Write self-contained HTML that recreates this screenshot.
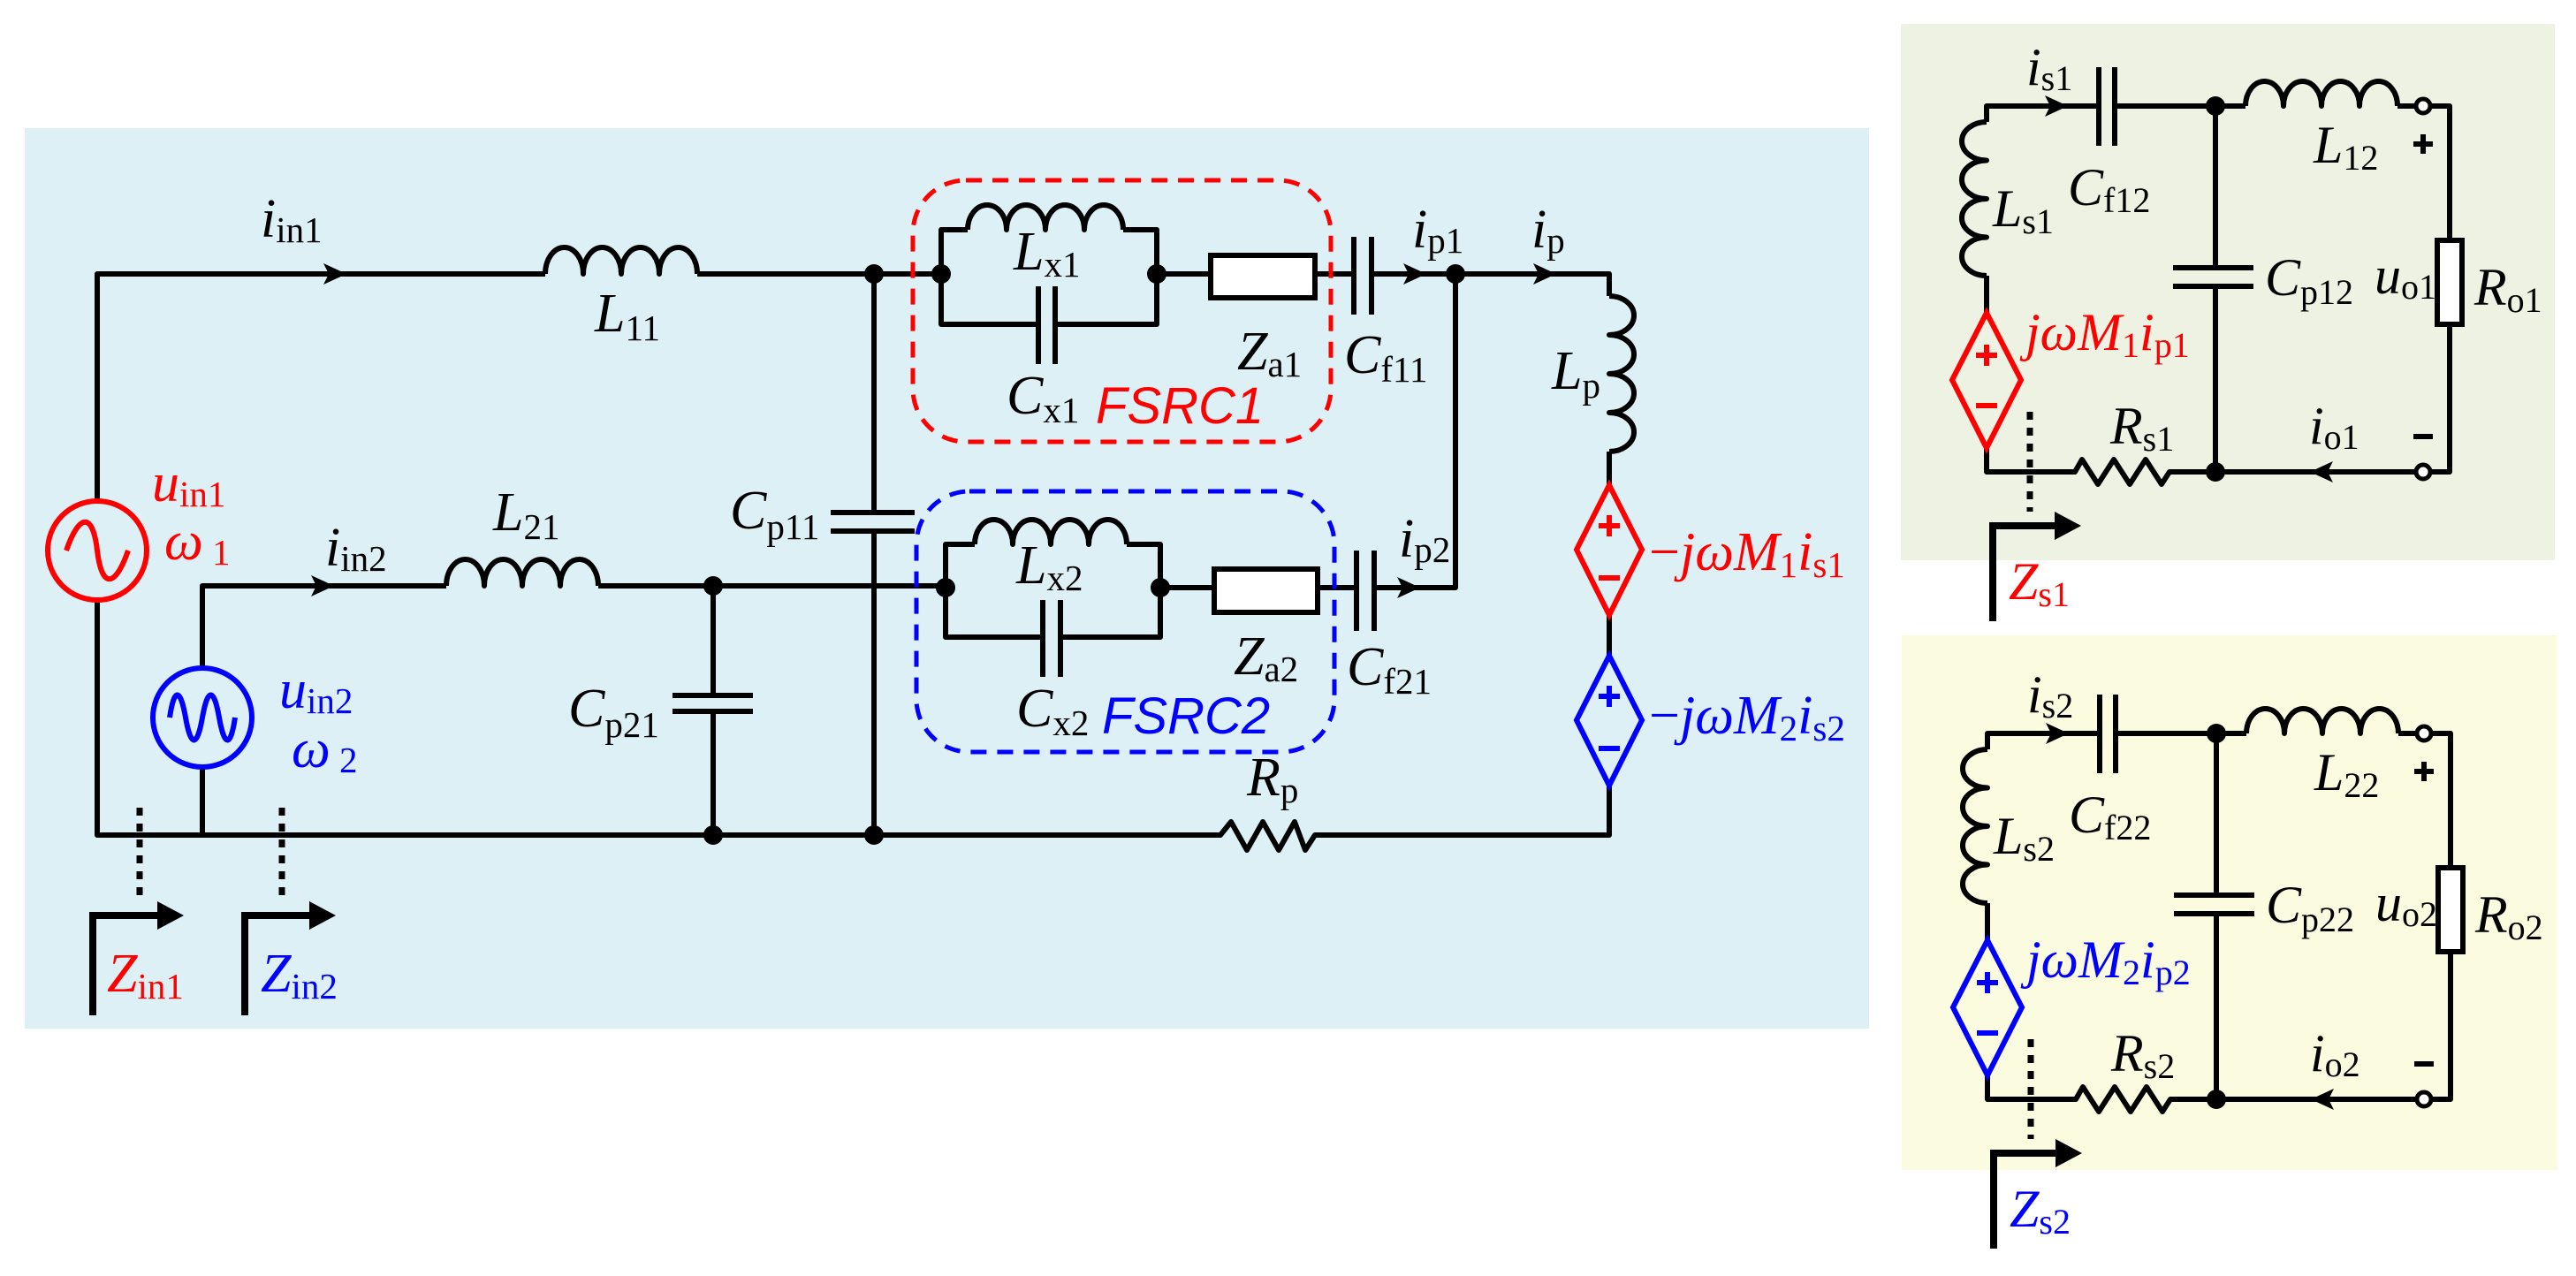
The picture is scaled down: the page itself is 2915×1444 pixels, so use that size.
<!DOCTYPE html>
<html><head><meta charset="utf-8"><style>
html,body{margin:0;padding:0;background:#fff}
svg{display:block}
.t{font-family:"Liberation Serif",serif;font-style:italic;font-size:62px}
.s{font-style:normal;font-size:41px}
.r{font-family:"Liberation Serif",serif;font-style:italic;font-size:60px}
.rs{font-style:normal;font-size:40px}
.f{font-family:"Liberation Sans",sans-serif;font-style:italic;font-size:58px}
</style></head><body>
<svg width="2915" height="1444" viewBox="0 0 2915 1444" xmlns="http://www.w3.org/2000/svg">
<rect x="28" y="145" width="2087" height="1019" fill="#ddf0f5"/>
<rect x="2151" y="27" width="740" height="607" fill="#edf2e3"/>
<rect x="2152" y="719" width="742" height="605" fill="#fbfbdf"/>

<g fill="none" stroke="#000" stroke-width="6" stroke-linejoin="round">
<path d="M110 565 V310 H617"/>
<path d="M617 310 a21.5 30 0 0 1 43 0 a21.5 30 0 0 1 43 0 a21.5 30 0 0 1 43 0 a21.5 30 0 0 1 43 0"/>
<path d="M789 310 H1065"/>
<path d="M110 681 V945 H1381 L1393 930 L1411 962 L1429 930 L1447 962 L1465 930 L1477 962 L1488 945 H1821 V889"/>
<path d="M229 945 V870"/>
<path d="M229 754 V663 H505"/>
<path d="M505 663 a21.5 30 0 0 1 43 0 a21.5 30 0 0 1 43 0 a21.5 30 0 0 1 43 0 a21.5 30 0 0 1 43 0"/>
<path d="M677 663 H1070"/>
<path d="M989 310 V580 M940 580 H1035 M940 601 H1035 M989 601 V945"/>
<path d="M807 663 V787 M761 787 H852 M761 805 H852 M807 805 V945"/>
<path d="M1065 310 V260 H1095 M1271 260 H1309 V367 H1194 M1175 367 H1065 V310"/>
<path d="M1095 260 a22 28 0 0 1 44 0 a22 28 0 0 1 44 0 a22 28 0 0 1 44 0 a22 28 0 0 1 44 0"/>
<path d="M1175 324 V412 M1194 324 V412"/>
<path d="M1309 310 H1370 M1488 310 H1532 M1532 268 V356 M1552 268 V356 M1552 310 H1821 V335"/>
<path d="M1821 335 a28 22 0 0 1 0 44 a28 22 0 0 1 0 44 a28 22 0 0 1 0 44 a28 22 0 0 1 0 44"/>
<path d="M1821 511 V549 M1821 696 V742"/>
<path d="M1647 310 V665 H1555"/>
<path d="M1070 665 V616 H1103 M1275 616 H1313 V721 H1200 M1180 721 H1070 V665"/>
<path d="M1103 616 a21.5 28 0 0 1 43 0 a21.5 28 0 0 1 43 0 a21.5 28 0 0 1 43 0 a21.5 28 0 0 1 43 0"/>
<path d="M1180 679 V766 M1200 679 V766"/>
<path d="M1313 665 H1374 M1491 665 H1535 M1535 623 V714 M1555 623 V714"/>
<path d="M105 1149 V1036 H185 M277 1149 V1036 H357" stroke-width="8" stroke-linejoin="miter"/>
<path d="M158 914 V1022 M319 914 V1022" stroke-width="7" stroke-dasharray="9 9"/>
</g>
<rect x="1370" y="289" width="118" height="48" fill="#fff" stroke="#000" stroke-width="6"/>
<rect x="1374" y="644" width="117" height="49" fill="#fff" stroke="#000" stroke-width="6"/>
<g fill="#000">
<circle cx="989" cy="310" r="11"/><circle cx="1065" cy="310" r="11"/><circle cx="1309" cy="310" r="11"/><circle cx="1647" cy="310" r="11"/>
<circle cx="807" cy="663" r="11"/><circle cx="1070" cy="665" r="11"/><circle cx="1313" cy="665" r="11"/>
<circle cx="807" cy="945" r="11"/><circle cx="989" cy="945" r="11"/>
<path d="M392 310 l-26 -12 l6 12 l-6 12z"/>
<path d="M378 663 l-26 -12 l6 12 l-6 12z"/>
<path d="M1614 310 l-26 -12 l6 12 l-6 12z"/>
<path d="M1761 310 l-26 -12 l6 12 l-6 12z"/>
<path d="M1607 665 l-26 -12 l6 12 l-6 12z"/>
<path d="M208 1036 l-30 -16 v32z M380 1036 l-30 -16 v32z"/>
</g>
<circle cx="110" cy="623" r="56" fill="none" stroke="#f00" stroke-width="6"/>
<path d="M75 623 C90 580 105 580 110 623 C115 666 130 666 145 623" fill="none" stroke="#f00" stroke-width="6"/>
<circle cx="229" cy="812" r="56" fill="none" stroke="#00f" stroke-width="6"/>
<path d="M192 812 C197 778 204 778 210 812 C216 846 223 846 229 812 C235 778 242 778 248 812 C254 846 261 846 266 812" fill="none" stroke="#00f" stroke-width="6"/>
<rect x="1033" y="204" width="473" height="296" rx="60" fill="none" stroke="#f00" stroke-width="5" stroke-dasharray="18 12"/>
<rect x="1037" y="556" width="473" height="295" rx="60" fill="none" stroke="#00f" stroke-width="5" stroke-dasharray="18 12"/>
<path d="M1821 549 L1858 622 L1821 696 L1784 622Z M1809 595 H1833 M1821 583 V607 M1809 654 H1833" fill="none" stroke="#f00" stroke-width="6"/>
<path d="M1821 742 L1858 815 L1821 889 L1784 815Z M1809 788 H1833 M1821 776 V800 M1809 847 H1833" fill="none" stroke="#00f" stroke-width="6"/>

<text class="t" x="295" y="268">i<tspan class="s" dy="6">in1</tspan></text>
<text class="t" x="673" y="375">L<tspan class="s" dy="10">11</tspan></text>
<text class="t" x="368" y="640">i<tspan class="s" dy="6">in2</tspan></text>
<text class="t" x="558" y="600">L<tspan class="s" dy="10">21</tspan></text>
<text class="t" x="826" y="598">C<tspan class="s" dy="12">p11</tspan></text>
<text class="t" x="643" y="822">C<tspan class="s" dy="12">p21</tspan></text>
<text class="t" x="172" y="567" fill="#f00">u<tspan class="s" dy="6">in1</tspan></text>
<text class="t" x="186" y="633" fill="#f00">ω<tspan class="s" dy="6"> 1</tspan></text>
<text class="t" x="316" y="801" fill="#00f">u<tspan class="s" dy="6">in2</tspan></text>
<text class="t" x="330" y="868" fill="#00f">ω<tspan class="s" dy="6"> 2</tspan></text>
<text class="t" x="121" y="1122" fill="#f00">Z<tspan class="s" dy="8">in1</tspan></text>
<text class="t" x="295" y="1122" fill="#00f">Z<tspan class="s" dy="8">in2</tspan></text>
<text class="t" x="1147" y="305">L<tspan class="s" dy="8">x1</tspan></text>
<text class="t" x="1139" y="468">C<tspan class="s" dy="10">x1</tspan></text>
<text class="f" x="1240" y="479" fill="#f00">FSRC1</text>
<text class="t" x="1400" y="418">Z<tspan class="s" dy="8">a1</tspan></text>
<text class="t" x="1521" y="422">C<tspan class="s" dy="10">f11</tspan></text>
<text class="t" x="1598" y="280">i<tspan class="s" dy="6">p1</tspan></text>
<text class="t" x="1733" y="280">i<tspan class="s" dy="6">p</tspan></text>
<text class="t" x="1756" y="440">L<tspan class="s" dy="10">p</tspan></text>
<text class="t" x="1150" y="660">L<tspan class="s" dy="8">x2</tspan></text>
<text class="t" x="1150" y="822">C<tspan class="s" dy="10">x2</tspan></text>
<text class="f" x="1247" y="830" fill="#00f">FSRC2</text>
<text class="t" x="1396" y="763">Z<tspan class="s" dy="8">a2</tspan></text>
<text class="t" x="1524" y="775">C<tspan class="s" dy="10">f21</tspan></text>
<text class="t" x="1583" y="630">i<tspan class="s" dy="6">p2</tspan></text>
<text class="t" x="1411" y="900">R<tspan class="s" dy="8">p</tspan></text>
<text class="t" x="1866" y="645" fill="#f00"><tspan font-style="normal">−</tspan>jωM<tspan class="s" dy="8">1</tspan><tspan dy="-8">i</tspan><tspan class="s" dy="8">s1</tspan></text>
<text class="t" x="1866" y="830" fill="#00f"><tspan font-style="normal">−</tspan>jωM<tspan class="s" dy="8">2</tspan><tspan dy="-8">i</tspan><tspan class="s" dy="8">s2</tspan></text>

<g id="p1">
<g fill="none" stroke="#000" stroke-width="6" stroke-linejoin="round">
<path d="M2248 138 V120 H2375 M2375 76 V165 M2393 76 V165 M2393 120 H2541"/>
<path d="M2541 120 a21.5 28 0 0 1 43 0 a21.5 28 0 0 1 43 0 a21.5 28 0 0 1 43 0 a21.5 28 0 0 1 43 0"/>
<path d="M2713 120 H2735 M2749 120 H2772 V272 M2772 367 V534 H2749 M2735 534 H2455 L2446 548 L2428 520 L2410 548 L2392 520 L2374 548 L2356 520 L2348 534 H2248 V507 M2248 354 V312"/>
<path d="M2248 312 a28 21.75 0 0 1 0 -43.5 a28 21.75 0 0 1 0 -43.5 a28 21.75 0 0 1 0 -43.5 a28 21.75 0 0 1 0 -43.5"/>
<path d="M2507 120 V303 M2459 303 H2550 M2459 324 H2550 M2507 324 V534"/>
<path d="M2255 703 V595 H2330" stroke-width="8" stroke-linejoin="miter"/>
<path d="M2297 466 V579" stroke-width="7" stroke-dasharray="9 9"/>
<path d="M2731 163 H2753 M2742 152 V174 M2731 494 H2753"/>
</g>
<rect x="2758" y="272" width="28" height="95" fill="#fff" stroke="#000" stroke-width="6"/>
<circle cx="2742" cy="120" r="8" fill="#fff" stroke="#000" stroke-width="5"/>
<circle cx="2742" cy="534" r="8" fill="#fff" stroke="#000" stroke-width="5"/>
<g fill="#000">
<circle cx="2507" cy="120" r="11"/><circle cx="2507" cy="534" r="11"/>
<path d="M2340 120 l-26 -12 l6 12 l-6 12z"/>
<path d="M2614 534 l26 -12 l-6 12 l6 12z"/>
<path d="M2355 595 l-30 -16 v32z"/>
</g>
</g>
<path d="M2248 354 L2287 430 L2248 507 L2209 430Z M2236 402 H2260 M2248 390 V414 M2236 459 H2260" fill="none" stroke="#f00" stroke-width="6"/>
<text class="r" x="2293" y="96">i<tspan class="rs" dy="6">s1</tspan></text>
<text class="r" x="2340" y="232">C<tspan class="rs" dy="8">f12</tspan></text>
<text class="r" x="2255" y="256">L<tspan class="rs" dy="8">s1</tspan></text>
<text class="r" x="2618" y="184">L<tspan class="rs" dy="8">12</tspan></text>
<text class="r" x="2563" y="334">C<tspan class="rs" dy="10">p12</tspan></text>
<text class="r" x="2687" y="332">u<tspan class="rs" dy="6">o1</tspan></text>
<text class="r" x="2800" y="345">R<tspan class="rs" dy="8">o1</tspan></text>
<text class="r" x="2292" y="396" fill="#f00">jωM<tspan class="rs" dy="8">1</tspan><tspan dy="-8">i</tspan><tspan class="rs" dy="8">p1</tspan></text>
<text class="r" x="2388" y="502">R<tspan class="rs" dy="8">s1</tspan></text>
<text class="r" x="2613" y="502">i<tspan class="rs" dy="6">o1</tspan></text>
<text class="r" x="2273" y="678" fill="#f00">Z<tspan class="rs" dy="8">s1</tspan></text>

<use href="#p1" transform="translate(1,710)"/>
<path d="M2249 1064 L2288 1140 L2249 1217 L2210 1140Z M2237 1112 H2261 M2249 1100 V1124 M2237 1169 H2261" fill="none" stroke="#00f" stroke-width="6"/>
<text class="r" x="2294" y="806">i<tspan class="rs" dy="6">s2</tspan></text>
<text class="r" x="2341" y="942">C<tspan class="rs" dy="8">f22</tspan></text>
<text class="r" x="2256" y="966">L<tspan class="rs" dy="8">s2</tspan></text>
<text class="r" x="2619" y="894">L<tspan class="rs" dy="8">22</tspan></text>
<text class="r" x="2564" y="1044">C<tspan class="rs" dy="10">p22</tspan></text>
<text class="r" x="2688" y="1042">u<tspan class="rs" dy="6">o2</tspan></text>
<text class="r" x="2801" y="1055">R<tspan class="rs" dy="8">o2</tspan></text>
<text class="r" x="2293" y="1106" fill="#00f">jωM<tspan class="rs" dy="8">2</tspan><tspan dy="-8">i</tspan><tspan class="rs" dy="8">p2</tspan></text>
<text class="r" x="2389" y="1212">R<tspan class="rs" dy="8">s2</tspan></text>
<text class="r" x="2614" y="1212">i<tspan class="rs" dy="6">o2</tspan></text>
<text class="r" x="2274" y="1388" fill="#00f">Z<tspan class="rs" dy="8">s2</tspan></text>
</svg>
</body></html>
